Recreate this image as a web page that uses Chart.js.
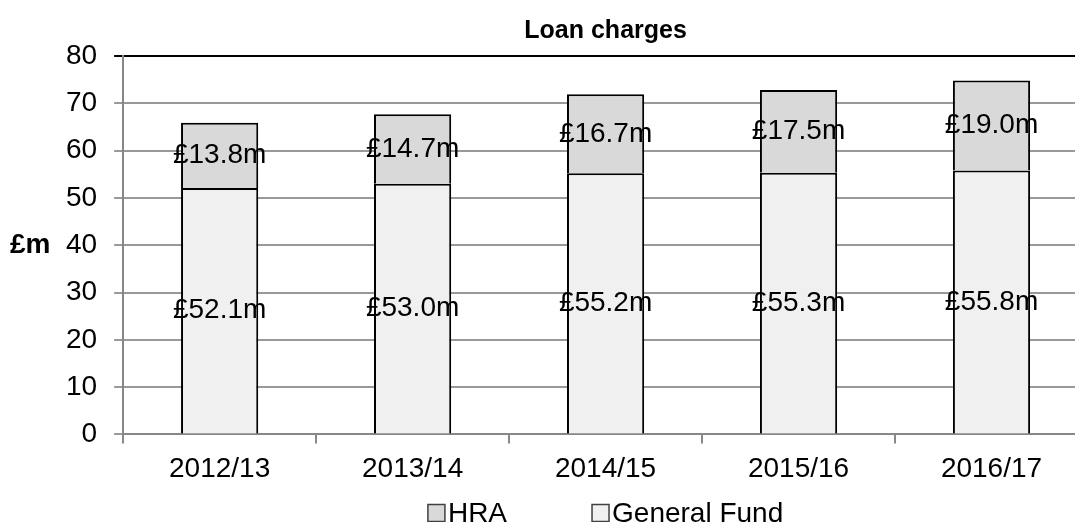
<!DOCTYPE html>
<html>
<head>
<meta charset="utf-8">
<script src="https://cdn.jsdelivr.net/npm/chart.js@4.4.1/dist/chart.umd.min.js"></script>
<style>
  html, body { margin: 0; padding: 0; background: #fff; overflow: hidden; }
  #wrap { width: 1089px; height: 522px; }
</style>
</head>
<body>
<div id="wrap"><canvas id="loanChart"></canvas></div>
<script>
var years = ['2012/13', '2013/14', '2014/15', '2015/16', '2016/17'];
var generalFund = [52.1, 53.0, 55.2, 55.3, 55.8];
var hra = [13.8, 14.7, 16.7, 17.5, 19.0];
var yTicks = [0, 10, 20, 30, 40, 50, 60, 70, 80];

var FONT = 'Arial, "Liberation Sans", sans-serif';

// value labels in the middle of each segment, the "£m" caption and the legend
var labelPlugin = {
    id: 'segLabels',
    afterDatasetsDraw: function(chart) {
        var ctx = chart.ctx;
        ctx.save();
        ctx.font = '28px ' + FONT;
        ctx.fillStyle = '#000';
        ctx.textAlign = 'center';
        ctx.textBaseline = 'middle';
        chart.data.datasets.forEach(function(ds, i) {
            chart.getDatasetMeta(i).data.forEach(function(bar, j) {
                var mid = (bar.y + bar.base) / 2;
                ctx.fillText('£' + ds.data[j].toFixed(1) + 'm', bar.x, mid);
            });
        });

        ctx.font = 'bold 28px ' + FONT;
        ctx.textAlign = 'left';
        ctx.fillText('£m', 10, chart.scales.y.getPixelForValue(40));

        // legend, HRA first, centred under the plot area
        ctx.font = '28px ' + FONT;
        var items = chart.data.datasets.slice().reverse();
        var box = 17, gap = 3, spacing = 85;
        var widths = items.map(function(ds) { return box + gap + ctx.measureText(ds.label).width; });
        var total = widths.reduce(function(a, b) { return a + b; }, 0) + spacing * (items.length - 1);
        var area = chart.chartArea;
        var x = (area.left + area.right) / 2 - total / 2;
        var y = chart.height - 9;
        items.forEach(function(ds, k) {
            ctx.fillStyle = ds.backgroundColor;
            ctx.fillRect(x, y - box / 2, box, box);
            ctx.strokeStyle = '#404040';
            ctx.lineWidth = 1.5;
            ctx.strokeRect(x, y - box / 2, box, box);
            ctx.fillStyle = '#000';
            ctx.fillText(ds.label, x + box + gap, y + 1);
            x += widths[k] + spacing;
        });
        ctx.restore();
    }
};

new Chart(document.getElementById('loanChart'), {
    type: 'bar',
    data: {
        labels: years,
        datasets: [{
            label: 'General Fund',
            data: generalFund,
            backgroundColor: '#f0f0f0',
            borderColor: '#000',
            borderWidth: 2,
            barPercentage: 0.4,
            categoryPercentage: 1
        }, {
            label: 'HRA',
            data: hra,
            backgroundColor: '#d9d9d9',
            borderColor: '#000',
            borderWidth: 2,
            barPercentage: 0.4,
            categoryPercentage: 1
        }]
    },
    options: {
        responsive: true,
        maintainAspectRatio: false,
        animation: false,
        layout: { padding: { left: 49, right: 1, top: 0, bottom: 27 } },
        plugins: {
            title: {
                display: true,
                text: 'Loan charges',
                fullSize: false,
                color: '#000',
                font: { family: FONT, size: 25, weight: 'bold' },
                padding: { top: 16, bottom: 10 }
            },
            legend: { display: false },
            tooltip: { enabled: false }
        },
        scales: {
            x: {
                stacked: true,
                border: { color: '#888', width: 2 },
                grid: { drawOnChartArea: false, drawTicks: true, tickLength: 9, color: '#888', lineWidth: 2 },
                ticks: { color: '#000', font: { family: FONT, size: 28 }, padding: 9 }
            },
            y: {
                stacked: true,
                min: 0,
                max: 80,
                afterBuildTicks: function(axis) {
                    axis.ticks = yTicks.map(function(v) { return { value: v }; });
                },
                border: { color: '#888', width: 2 },
                grid: {
                    tickLength: 9,
                    lineWidth: 2,
                    color: function(c) { return c.tick && c.tick.value === 80 ? '#000' : '#999'; }
                },
                ticks: { color: '#000', font: { family: FONT, size: 28 }, padding: 17 }
            }
        }
    },
    plugins: [labelPlugin]
});
</script>
</body>
</html>
